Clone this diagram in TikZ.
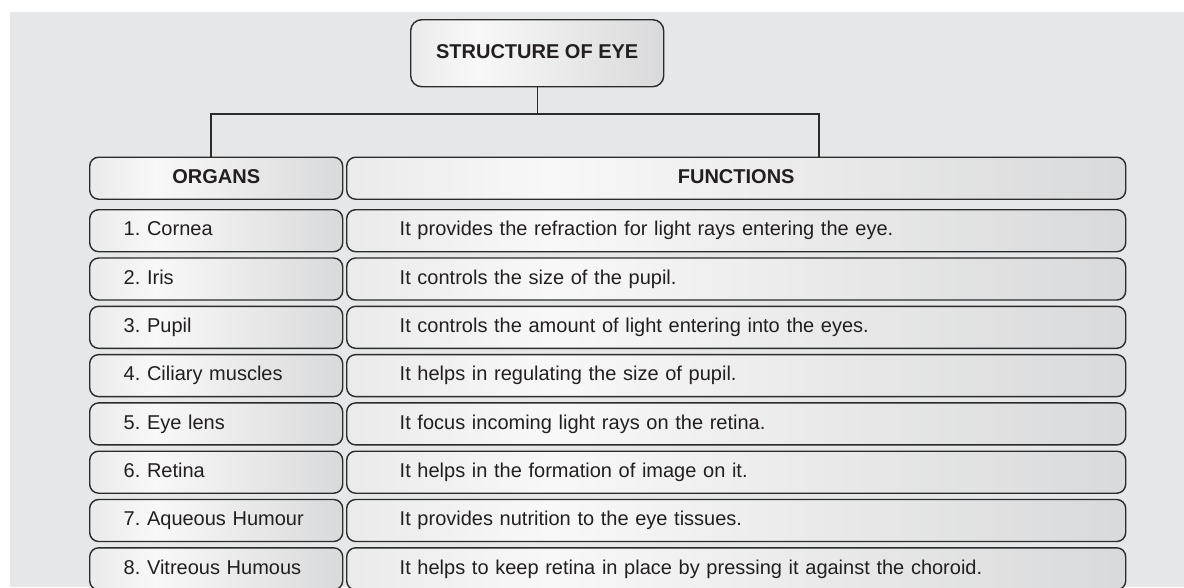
\documentclass[tikz,border=0pt]{standalone}
\usepackage{fontspec}
\setmainfont{Liberation Sans}
\frenchspacing
\definecolor{pagebg}{HTML}{E6E7E8}
\definecolor{edge}{HTML}{2B2B2B}
\definecolor{ink}{HTML}{231F20}
\definecolor{shadeL}{HTML}{CFD0D2}
\definecolor{shadeM}{HTML}{F8F8F8}
\definecolor{shadeR}{HTML}{C4C5C7}
\pgfdeclarehorizontalshading{boxshade}{100bp}{color(0bp)=(shadeL); color(38bp)=(shadeM); color(100bp)=(shadeR)}
\tikzset{
  cell/.style={draw=edge, line width=1.4pt, rounded corners=9pt, shading=boxshade,
    anchor=north west, minimum height=42pt, inner ysep=0pt, text=ink,
    text height=14.5pt, text depth=4pt,
    font=\fontsize{20}{24}\selectfont},
  headcell/.style={cell, align=center, font=\fontsize{20}{24}\selectfont\bfseries},
  organcell/.style={cell, inner xsep=34pt, text width=185pt, align=left},
  funccell/.style={cell, inner xsep=53pt, text width=673pt, align=left},
  link/.style={draw=edge, line width=1.4pt}
}
\begin{document}
\begin{tikzpicture}[x=1pt, y=-1pt]
  \useasboundingbox (0,0) rectangle (1184,587);
  \fill[white] (0,0) rectangle (1184,587);
  \fill[pagebg] (10,12) rectangle (1184,587);
  \begin{scope}
  \clip (0,0) rectangle (1184,587);

  % title box
  \node[headcell, minimum width=253pt, minimum height=67pt, rounded corners=11pt]
    (title) at (410,19) {STRUCTURE OF EYE};

  % column headers
  \node[headcell, minimum width=253pt, inner xsep=0pt] (org) at (89,156.5) {ORGANS};
  \node[headcell, minimum width=779pt, inner xsep=0pt] (fun) at (346,156.5) {FUNCTIONS};

  % connectors from the title to both columns
  \coordinate (jl) at (211,114);
  \coordinate (jr) at (819,114);
  \draw[link] (title.south) -- (title.south |- jl);
  \draw[link] (jl |- org.north) -- (jl) -- (jr) -- (jr |- fun.north);

  % table rows
  \foreach \i/\organ/\func in {
    1/{1. Cornea}/{It provides the refraction for light rays entering the eye.},
    2/{2. Iris}/{It controls the size of the pupil.},
    3/{3. Pupil}/{It controls the amount of light entering into the eyes.},
    4/{4. Ciliary muscles}/{It helps in regulating the size of pupil.},
    5/{5. Eye lens}/{It focus incoming light rays on the retina.},
    6/{6. Retina}/{It helps in the formation of image on it.},
    7/{7. Aqueous Humour}/{It provides nutrition to the eye tissues.},
    8/{8. Vitreous Humous}/{It helps to keep retina in place by pressing it against the choroid.}}
  {
    \pgfmathsetmacro{\ytop}{209+48.3*(\i-1)}
    \node[organcell] (o\i) at (89,\ytop) {\organ};
    \node[funccell] (f\i) at (346,\ytop) {\func};
  }
  \end{scope}
\end{tikzpicture}
\end{document}
